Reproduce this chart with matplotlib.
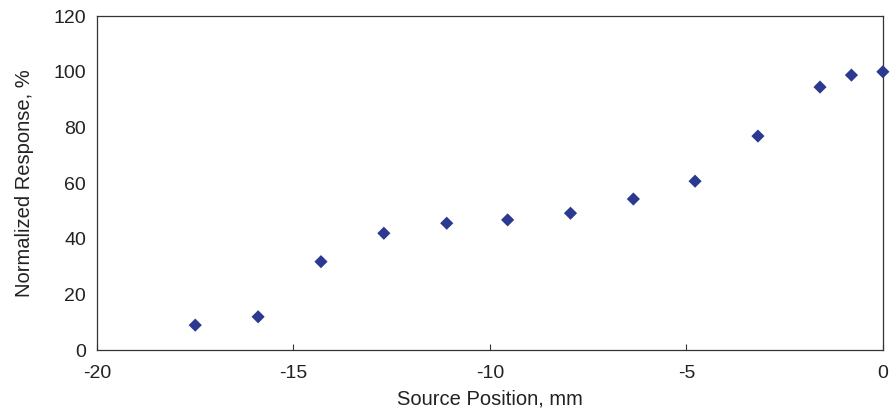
import matplotlib
matplotlib.use("Agg")
import matplotlib.pyplot as plt

plt.rcParams['font.family'] = ['Liberation Sans', 'DejaVu Sans']
plt.rcParams['axes.unicode_minus'] = False

# Source position (mm) and normalized response (%)
position_mm = [-17.5, -15.9, -14.3, -12.7, -11.1, -9.55, -7.95, -6.35, -4.78, -3.18, -1.6, -0.8, 0.0]
response_pct = [9.0, 12.0, 31.8, 42.0, 45.6, 46.8, 49.2, 54.3, 60.7, 76.9, 94.5, 98.8, 100.0]

x_ticks = [-20, -15, -10, -5, 0]
y_ticks = [0, 20, 40, 60, 80, 100, 120]

fig = plt.figure(figsize=(8.9, 4.12), dpi=100)
ax = fig.add_axes([0.109, 0.150, 0.883, 0.811])

ax.scatter(position_mm, response_pct, marker='D', s=45, color='#2b3990',
           edgecolors='none', clip_on=False, zorder=3)

ax.set_xlim(-20, 0)
ax.set_ylim(0, 120)
ax.set_xticks(x_ticks)
ax.set_yticks(y_ticks)
ax.tick_params(axis='x', direction='in', length=4, width=0.8, pad=11,
               labelsize=14, colors='#333333')
ax.tick_params(axis='y', length=0, pad=8, labelsize=14, colors='#333333')
ax.tick_params(labelcolor='#222222')

for sp in ax.spines.values():
    sp.set_color('#333333')
    sp.set_linewidth(0.9)

ax.set_xlabel('Source Position, mm', fontsize=14.5, color='#222222', labelpad=5)
ax.set_ylabel('Normalized Response, %', fontsize=14.5, color='#222222', labelpad=14)

fig.savefig('out.png', dpi=100)
